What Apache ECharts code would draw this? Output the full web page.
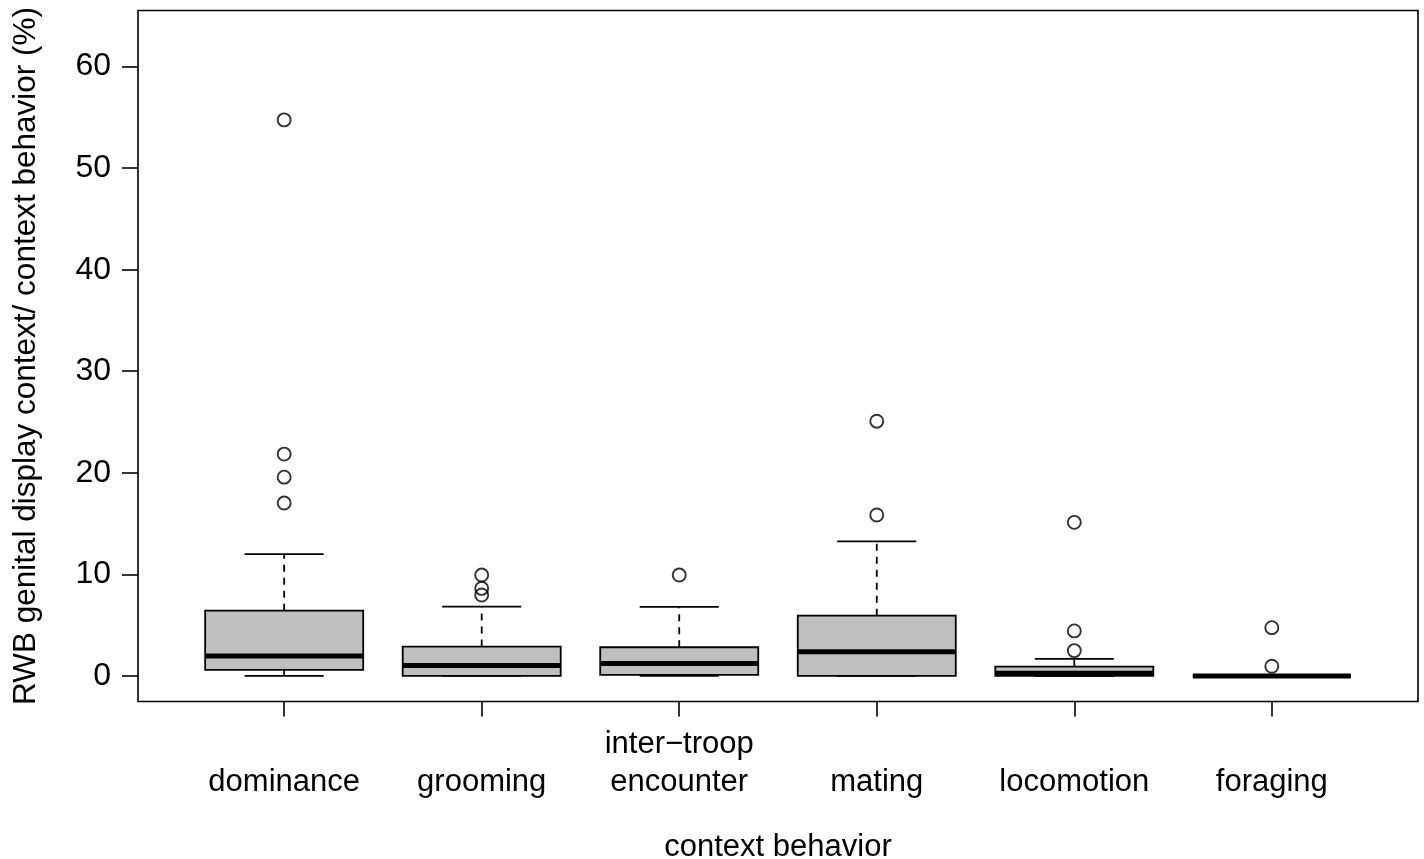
<!DOCTYPE html>
<html>
<head>
<meta charset="utf-8">
<script src="https://cdn.jsdelivr.net/npm/echarts@6/dist/echarts.min.js"></script>
<style>
html,body{margin:0;padding:0;background:#fff;}
#chart{width:1424px;height:859px;}
</style>
</head>
<body>
<div id="chart"></div>
<script>
const categories = ['dominance', 'grooming', 'inter\u2212troop\nencounter', 'mating', 'locomotion', 'foraging'];
const lowerWhisker = [0, 0, 0, 0, 0, 0];
const q1 = [0.59, 0, 0.1, 0, 0, 0];
const median = [1.97, 1.02, 1.21, 2.39, 0.27, 0];
const q3 = [6.42, 2.89, 2.82, 5.93, 0.92, 0];
const upperWhisker = [12.0, 6.82, 6.79, 13.25, 1.67, 0];
const outliers = [
  [54.75, 21.84, 19.57, 17.02],
  [9.93, 8.62, 7.97],
  [9.93],
  [25.08, 15.84],
  [15.12, 4.43, 2.49],
  [4.75, 0.95]
];
const yTicks = [0, 10, 20, 30, 40, 50, 60];
const xTicks = [1, 2, 3, 4, 5, 6];

const boxData = categories.map((c, i) => [i + 1, lowerWhisker[i], q1[i], median[i], q3[i], upperWhisker[i]]);
const outlierData = [];
outliers.forEach((arr, i) => arr.forEach(v => outlierData.push([i + 1, v])));

const FONT = "'Liberation Sans', Arial, Helvetica, sans-serif";
const chart = echarts.init(document.getElementById('chart'));

function renderBox(params, api) {
  const x = api.value(0);
  const lw = api.value(1), b1 = api.value(2), md = api.value(3), b3 = api.value(4), uw = api.value(5);
  const halfBox = api.size([0.4, 0])[0];
  const halfCap = api.size([0.2, 0])[0];
  const pLW = api.coord([x, lw]);
  const pQ1 = api.coord([x, b1]);
  const pMd = api.coord([x, md]);
  const pQ3 = api.coord([x, b3]);
  const pUW = api.coord([x, uw]);
  const cx = pMd[0];
  const dashStyle = { stroke: '#000', lineWidth: 1.8, lineDash: [7, 6] };
  const solid = { stroke: '#000', lineWidth: 1.8 };
  return {
    type: 'group',
    children: [
      { type: 'line', shape: { x1: cx, y1: pQ3[1], x2: cx, y2: pUW[1] }, style: dashStyle },
      { type: 'line', shape: { x1: cx, y1: pQ1[1], x2: cx, y2: pLW[1] }, style: dashStyle },
      { type: 'line', shape: { x1: cx - halfCap, y1: pUW[1], x2: cx + halfCap, y2: pUW[1] }, style: solid },
      { type: 'line', shape: { x1: cx - halfCap, y1: pLW[1], x2: cx + halfCap, y2: pLW[1] }, style: solid },
      { type: 'rect', shape: { x: cx - halfBox, y: pQ3[1], width: 2 * halfBox, height: pQ1[1] - pQ3[1] },
        style: { fill: '#bfbfbf', stroke: '#000', lineWidth: 1.8 } },
      { type: 'line', shape: { x1: cx - halfBox, y1: pMd[1], x2: cx + halfBox, y2: pMd[1] },
        style: { stroke: '#000', lineWidth: 5 } }
    ]
  };
}

chart.setOption({
  backgroundColor: '#fff',
  animation: false,
  grid: {
    left: 138, top: 10.5, right: 6, bottom: 157.5,
    outerBoundsMode: 'none', containLabel: false,
    show: true, borderColor: '#000', borderWidth: 1.6, backgroundColor: 'transparent'
  },
  xAxis: {
    type: 'value', min: 0.26, max: 6.74,
    axisLine: { show: false, onZero: false },
    splitLine: { show: false },
    axisTick: { show: true, customValues: xTicks, length: 15, inside: false, lineStyle: { color: '#000', width: 1.6 } },
    axisLabel: {
      customValues: xTicks,
      formatter: v => categories[Math.round(v) - 1],
      fontFamily: FONT, fontSize: 31, color: '#000',
      verticalAlign: 'bottom', lineHeight: 38, margin: 100
    },
    name: 'context behavior', nameLocation: 'middle', nameGap: 130,
    nameTextStyle: { fontFamily: FONT, fontSize: 31, color: '#000' }
  },
  yAxis: {
    type: 'value', min: -2.52, max: 65.52,
    axisLine: { show: false, onZero: false },
    splitLine: { show: false },
    axisTick: { show: true, customValues: yTicks, length: 16, inside: false, lineStyle: { color: '#000', width: 1.6 } },
    axisLabel: {
      customValues: yTicks,
      fontFamily: FONT, fontSize: 32, color: '#000', margin: 27
    },
    name: 'RWB genital display context/ context behavior (%)',
    nameLocation: 'middle', nameRotate: 90, nameGap: 96,
    nameTextStyle: { fontFamily: FONT, fontSize: 31.5, color: '#000' }
  },
  series: [
    {
      type: 'custom',
      renderItem: renderBox,
      encode: { x: 0, y: [1, 2, 3, 4, 5] },
      data: boxData,
      z: 2
    },
    {
      type: 'scatter',
      data: outlierData,
      symbol: 'circle',
      symbolSize: 13,
      itemStyle: { color: 'rgba(0,0,0,0)', borderColor: '#000', borderWidth: 1.9 },
      z: 3
    }
  ]
});
</script>
</body>
</html>
